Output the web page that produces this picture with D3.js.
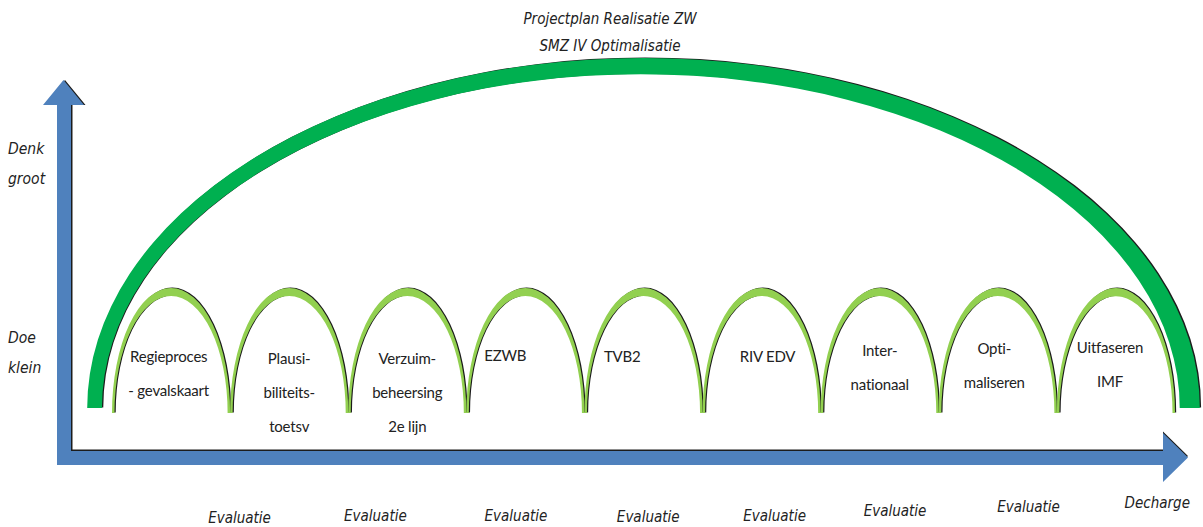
<!DOCTYPE html>
<html>
<head>
<meta charset="utf-8">
<script src="https://cdn.jsdelivr.net/npm/d3@7"></script>
<style>
  body { margin: 0; background: #fff; }
  .it { font-family: "DejaVu Sans Condensed", "DejaVu Sans", sans-serif; font-stretch: condensed; font-style: italic; fill: #222; }
  .ph { font-family: Lato, "Open Sans", sans-serif; fill: #222; letter-spacing: -0.2px; }
</style>
</head>
<body>
<svg id="chart" width="1203" height="527"></svg>
<script>
// phases (one small arch each), label lines
const phases = [
  ["Regieproces", "- gevalskaart"],
  ["Plausi-", "biliteits-", "toetsv"],
  ["Verzuim-", "beheersing", "2e lijn"],
  ["EZWB"],
  ["TVB2"],
  ["RIV EDV"],
  ["Inter-", "nationaal"],
  ["Opti-", "maliseren"],
  ["Uitfaseren", "IMF"]
];
// where the label sits, in phase units / height levels
const phaseLabelAt = [0.48, 1.5, 2.5, 3.33, 4.32, 5.55, 6.5, 7.47, 8.45];
const phaseLabelLevel = [0.44, 0.424, 0.424, 0.448, 0.44, 0.44, 0.488, 0.504, 0.512];

// milestones under the timeline
const milestones = ["Evaluatie", "Evaluatie", "Evaluatie", "Evaluatie", "Evaluatie", "Evaluatie", "Evaluatie", "Decharge"];
const milestoneAt = [1.08, 2.23, 3.42, 4.54, 5.61, 6.63, 7.76, 8.85];
const milestoneLevel = [-0.84, -0.824, -0.824, -0.832, -0.824, -0.784, -0.752, -0.72];

// ambition levels on the vertical axis
const levels = [["Denk", "groot"], ["Doe", "klein"]];
const levelAt = [2.0, 0.49];

const smallHeight = 1;      // "doe klein"
const bigOuter = 2.84;      // "denk groot"
const bigInner = 2.71;

const svg = d3.select("#chart");

var x = d3.scaleLinear().domain([0, phases.length]).range([112, 1175]);
var y = d3.scaleLinear().domain([0, 1]).range([413, 288]);

var blue = "#4f81bd", shadow = "#1c1c1c";

function withShadow(d, fill, dx, dy) {
  svg.append("path").attr("d", d).attr("fill", shadow)
    .attr("transform", `translate(${dx},${dy})`);
  svg.append("path").attr("d", d).attr("fill", fill);
}

// axes: L shaped arrows
var shaftL = 57, shaftW = 14, floorTop = 451, floorBot = 465;
var vArrow = d3.path();
vArrow.moveTo(shaftL, floorBot);
vArrow.lineTo(shaftL, 105);
vArrow.lineTo(43, 105);
vArrow.lineTo(63.5, 80);
vArrow.lineTo(84, 105);
vArrow.lineTo(shaftL + shaftW, 105);
vArrow.lineTo(shaftL + shaftW, floorBot);
vArrow.closePath();

var hArrow = d3.path();
hArrow.moveTo(shaftL, floorTop);
hArrow.lineTo(1163, floorTop);
hArrow.lineTo(1163, 433);
hArrow.lineTo(1188, 457.5);
hArrow.lineTo(1163, 482);
hArrow.lineTo(1163, floorBot);
hArrow.lineTo(shaftL, floorBot);
hArrow.closePath();

svg.append("path").attr("d", hArrow.toString()).attr("fill", shadow).attr("transform", "translate(0,-1.5)");
svg.append("path").attr("d", vArrow.toString()).attr("fill", shadow).attr("transform", "translate(1.5,0)");
svg.append("path").attr("d", hArrow.toString()).attr("fill", blue);
svg.append("path").attr("d", vArrow.toString()).attr("fill", blue);

// big arch
var bigBase = y(0.04);
var oL = x(-0.21), oR = x(9.21), iL = x(-0.085), iR = x(9.04);
var big = `M${oL},${bigBase} A${(oR - oL) / 2},${bigBase - y(bigOuter)} 0 0 1 ${oR},${bigBase}` +
  ` L${iR},${bigBase} A${(iR - iL) / 2},${bigBase - y(bigInner)} 0 0 0 ${iL},${bigBase} Z`;
withShadow(big, "#00b050", 1.3, -0.6);

// small arches
phases.forEach((p, i) => {
  var L = x(i), R = x(i + 1), b = y(0);
  var rx = (R - L) / 2;
  var d = `M${L},${b} A${rx},${b - y(smallHeight)} 0 0 1 ${R},${b}` +
    ` L${R - 2.5},${b} A${rx - 2.5},${b - y(smallHeight) - 8} 0 0 0 ${L + 2.5},${b} Z`;
  withShadow(d, "#92d050", 1.2, -0.4);
});

// phase labels
phases.forEach((lines, i) => {
  var t = svg.append("text").attr("class", "ph")
    .attr("text-anchor", "middle")
    .attr("font-size", 15)
    .attr("x", x(phaseLabelAt[i]))
    .attr("y", y(phaseLabelLevel[i]))
    .attr("dominant-baseline", "middle");
  lines.forEach((l, j) => {
    t.append("tspan").attr("x", x(phaseLabelAt[i])).attr("dy", j ? 34 : 0).text(l);
  });
});

// milestones
milestones.forEach((m, i) => {
  svg.append("text").attr("class", "it")
    .attr("text-anchor", "middle")
    .attr("dominant-baseline", "middle")
    .attr("font-size", 15)
    .attr("x", x(milestoneAt[i]))
    .attr("y", y(milestoneLevel[i]))
    .text(m);
});

// level labels
levels.forEach((lv, i) => {
  var t = svg.append("text").attr("class", "it")
    .attr("font-size", 15.5)
    .attr("x", 8)
    .attr("y", y(levelAt[i]) - 14)
    .attr("dominant-baseline", "middle");
  lv.forEach((l, j) => t.append("tspan").attr("x", 8).attr("dy", j ? 30 : 0).text(l));
});

// title
svg.append("text").attr("class", "it")
  .attr("text-anchor", "middle")
  .attr("font-size", 15)
  .selectAll("tspan")
  .data(["Projectplan Realisatie ZW", "SMZ IV Optimalisatie"])
  .join("tspan")
  .attr("x", 610)
  .attr("y", (d, i) => 24 + i * 27)
  .text(d => d);
</script>
</body>
</html>
